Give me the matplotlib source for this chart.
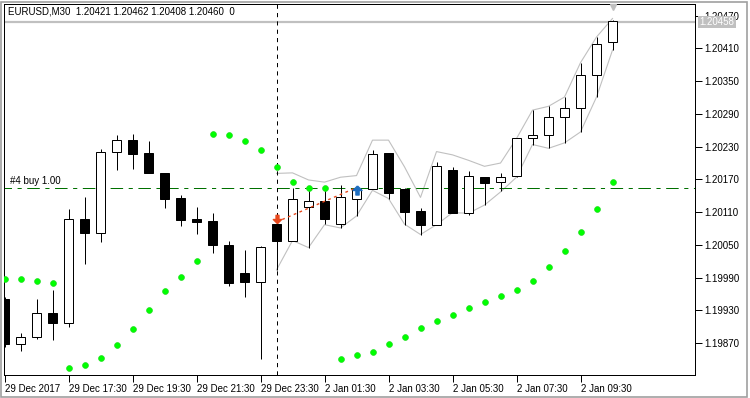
import numpy as np
import matplotlib
matplotlib.use("Agg")
import matplotlib.pyplot as plt
import matplotlib.transforms as mtransforms
from matplotlib.patches import Rectangle
from matplotlib.path import Path

plt.rcParams['font.family'] = ['Liberation Sans', 'DejaVu Sans']
plt.rcParams['lines.scale_dashes'] = False

# EURUSD M30 candles, 29 Dec 2017 15:30 .. 2 Jan 2018 10:30
opens = [1.19951, 1.19868, 1.19881, 1.19926, 1.19906, 1.20097, 1.20072, 1.20221, 1.20243, 1.20218,
         1.20182, 1.20136, 1.20097, 1.20094, 1.20050, 1.19998, 1.19982, 1.20088, 1.20058, 1.20119,
         1.20130, 1.20088, 1.20135, 1.20152, 1.20219, 1.20152, 1.20112, 1.20087, 1.20187, 1.20109,
         1.20174, 1.20165, 1.20177, 1.20245, 1.20251, 1.20284, 1.20300, 1.20362, 1.20421]
highs = [1.19955, 1.19889, 1.19951, 1.19967, 1.20116, 1.20138, 1.20226, 1.20251, 1.20254, 1.20240,
         1.20182, 1.20141, 1.20119, 1.20108, 1.20057, 1.20041, 1.20048, 1.20092, 1.20155, 1.20155,
         1.20155, 1.20160, 1.20155, 1.20224, 1.20219, 1.20155, 1.20118, 1.20202, 1.20193, 1.20185,
         1.20174, 1.20181, 1.20245, 1.20297, 1.20304, 1.20321, 1.20384, 1.20431, 1.20462]
lows = [1.19862, 1.19856, 1.19877, 1.19876, 1.19900, 1.20015, 1.20056, 1.20187, 1.20189, 1.20182,
        1.20118, 1.20084, 1.20070, 1.20036, 1.19975, 1.19955, 1.19840, 1.20004, 1.20057, 1.20045,
        1.20088, 1.20081, 1.20103, 1.20152, 1.20134, 1.20086, 1.20069, 1.20087, 1.20109, 1.20105,
        1.20124, 1.20149, 1.20174, 1.20233, 1.20227, 1.20237, 1.20257, 1.20321, 1.20408]
closes = [1.19868, 1.19881, 1.19926, 1.19906, 1.20097, 1.20072, 1.20221, 1.20243, 1.20217, 1.20182,
          1.20134, 1.20096, 1.20092, 1.20050, 1.19981, 1.19982, 1.20046, 1.20058, 1.20135, 1.20130,
          1.20098, 1.20137, 1.20152, 1.20216, 1.20145, 1.20111, 1.20086, 1.20194, 1.20109, 1.20176,
          1.20164, 1.20174, 1.20245, 1.20251, 1.20285, 1.20300, 1.20362, 1.20419, 1.20460]

# parabolic SAR
sar = [1.19987, 1.19987, 1.19983, 1.19981, 1.19824, 1.19829, 1.19842, 1.19866, 1.19895, 1.19931,
       1.19965, 1.19992, 1.20020, 1.20254, 1.20251, 1.20240, 1.20223, 1.20192, 1.20165, 1.20154,
       1.20154, 1.19840, 1.19848, 1.19853, 1.19868, 1.19882, 1.19897, 1.19910, 1.19921, 1.19934,
       1.19945, 1.19956, 1.19967, 1.19983, 1.20009, 1.20038, 1.20073, 1.20115, 1.20166]

# channel lines, from bar 17 on
band_start = 17
band_up = [1.20181, 1.20182, 1.20169, 1.20165, 1.20174, 1.20177, 1.20242, 1.20242, 1.20193, 1.20137,
           1.20221, 1.20215, 1.20205, 1.20194, 1.20200, 1.20245, 1.20297, 1.20304, 1.20321, 1.20384,
           1.20431, 1.20465]
band_dn = [1.20004, 1.20058, 1.20045, 1.20087, 1.20081, 1.20103, 1.20150, 1.20135, 1.20088, 1.20069,
           1.20087, 1.20109, 1.20108, 1.20123, 1.20147, 1.20174, 1.20234, 1.20227, 1.20237, 1.20257,
           1.20321, 1.20407]

# order #4
order_price = 1.20155
red_bar, red_price = 17, 1.20097
blue_bar, blue_price = 22, 1.20150
bid = 1.20458

xtick_pos = [0, 4, 8, 12, 16, 20, 24, 28, 32, 36]
xtick_lbl = ['29 Dec 2017', '29 Dec 17:30', '29 Dec 19:30', '29 Dec 21:30', '29 Dec 23:30',
             '2 Jan 01:30', '2 Jan 03:30', '2 Jan 05:30', '2 Jan 07:30', '2 Jan 09:30']
ytick_vals = [1.19870, 1.19930, 1.19990, 1.20050, 1.20110, 1.20170, 1.20230, 1.20290, 1.20350,
              1.20410, 1.20470]

W, H = 750, 398
fig = plt.figure(figsize=(W / 100, H / 100), dpi=100)
ax = fig.add_axes([4.3 / W, 1 - 374.7 / H, (695 - 4.3) / W, (374.7 - 4.3) / H])
px = 0.72  # one pixel in points

n = len(opens)
x = np.arange(n)
o = np.array(opens)
c = np.array(closes)

# candles
ax.vlines(x, lows, highs, color='black', lw=px, zorder=3)
up = c >= o
ax.bar(x, np.abs(c - o), bottom=np.minimum(o, c), width=0.5625,
       color=np.where(up, 'white', 'black'), edgecolor='black', linewidth=px, zorder=4)

# channel
xb = np.arange(band_start, band_start + len(band_up))
ax.plot(xb, band_up, color='#C0C0C0', lw=0.8, zorder=2)
ax.plot(xb, band_dn, color='#C0C0C0', lw=0.8, zorder=2)

# SAR dots
ax.plot(x, sar, ls='none', marker='o', ms=4.2, mfc='#00FF00', mec='#22DD22', mew=0.5, zorder=5)

# order line
ln, = ax.plot([-1, n + 10], [order_price, order_price], color='#007000', lw=px, zorder=2)
ln.set_dashes((9, 4, 3, 4))
ax.annotate('#4 buy 1.00', (0.35, order_price), xytext=(0, 1.5), textcoords='offset points',
            fontsize=7, va='bottom', ha='left', color='black')

# trade arrows
arrow_up = Path([(0, 1), (-1, 0), (-0.35, 0), (-0.35, -1), (0.35, -1), (0.35, 0), (1, 0), (0, 1)])
arrow_dn = Path([(0, -1), (-1, 0), (-0.35, 0), (-0.35, 1), (0.35, 1), (0.35, 0), (1, 0), (0, -1)])
rl, = ax.plot([red_bar, blue_bar], [1.20092, order_price], color='#E8481C', lw=1.0, zorder=6)
rl.set_dashes((2, 2.5))
ax.plot([red_bar], [red_price], marker=arrow_dn, ms=6, color='#E8481C', zorder=7)
ax.plot([blue_bar], [blue_price], marker=arrow_up, ms=6.5, color='#1E6EC0', zorder=7)

# bid line
ax.axhline(bid, color='#C0C0C0', lw=1.6, zorder=1)

# day separator
sep = ax.axvline(band_start, color='black', lw=px, zorder=2)
sep.set_dashes((3, 3))

# chart shift marker
ax.plot([38], [0.994], marker='v', ms=5, color='#C0C0C0', transform=ax.get_xaxis_transform(),
        clip_on=False, zorder=8)

ax.set_xlim(-0.0125, 43.156)
ax.set_ylim(1.19812, 1.20491)

ax.yaxis.tick_right()
ax.set_yticks(ytick_vals)
ax.set_yticklabels(['%.5f' % v for v in ytick_vals])
ax.set_xticks(xtick_pos)
ax.set_xticklabels(xtick_lbl)
for lbl in ax.get_xticklabels():
    lbl.set_ha('left')
ax.tick_params(axis='both', direction='out', length=5, width=px, labelsize=7, colors='black')
ax.tick_params(axis='y', pad=1.5)
ax.tick_params(axis='x', pad=1.5)
for s in ax.spines.values():
    s.set_linewidth(px)
    s.set_color('black')

# bid label on the price scale
trans = mtransforms.blended_transform_factory(ax.transAxes, ax.transData)
ax.text(1.0 + 4.5 / 690.7, bid, '1.20458', transform=trans, fontsize=7, color='white',
        va='center', ha='left', zorder=10, clip_on=False,
        bbox=dict(boxstyle='square,pad=0.12', facecolor='#C0C0C0', edgecolor='none'))

# header
fig.text(8 / W, 1 - 12 / H, 'EURUSD,M30  1.20421 1.20462 1.20408 1.20460  0', fontsize=7,
         va='center', ha='left', color='black')

# window frame
fig.patches.append(Rectangle((0.75 / W, 1.5 / H), 746.5 / W, 395 / H, transform=fig.transFigure,
                             fill=False, edgecolor='#A0A0A0', lw=1.2))

fig.savefig('out.png', dpi=100)
